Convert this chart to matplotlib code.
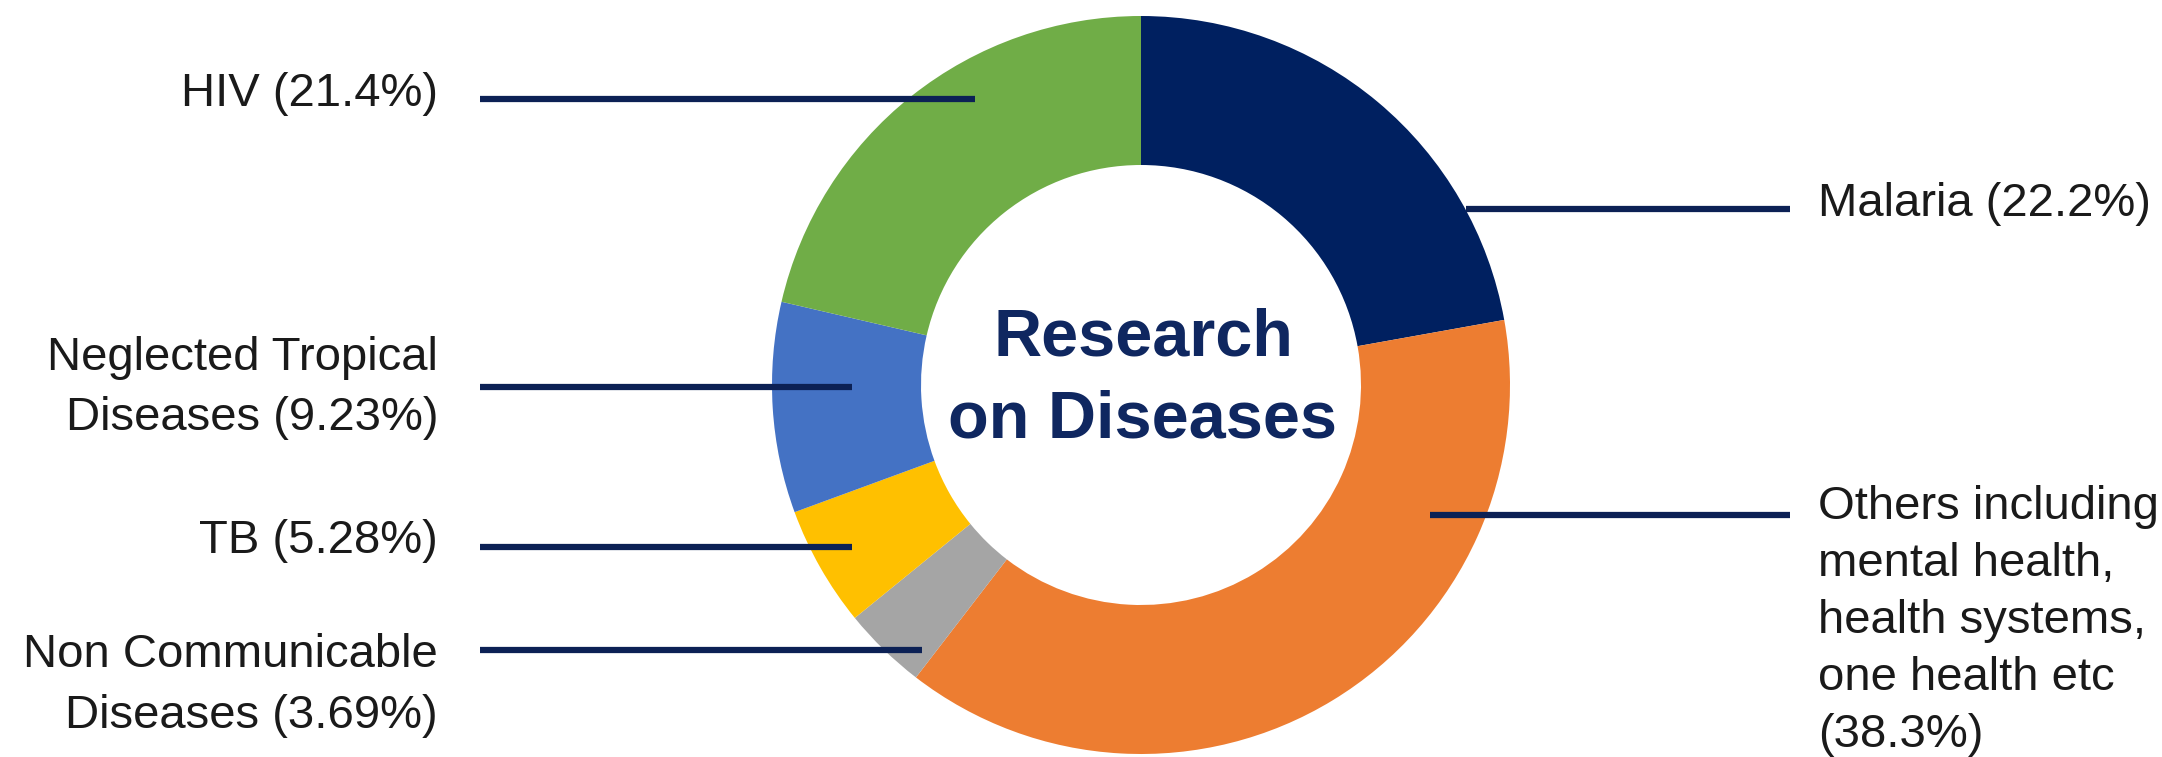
import matplotlib.pyplot as plt

W, H = 2162, 757

# data
labels = ["Malaria (22.2%)",
          "Others including\nmental health,\nhealth systems,\none health etc\n(38.3%)",
          "Non Communicable\nDiseases (3.69%)",
          "TB (5.28%)",
          "Neglected Tropical\nDiseases (9.23%)",
          "HIV (21.4%)"]
shares = [22.2, 38.3, 3.69, 5.28, 9.23, 21.4]
colors = ["#002060", "#ED7D31", "#A5A5A5", "#FFC000", "#4472C4", "#70AD47"]

# label layout (pixels from top of image): first baseline, line gap, leader y, leader inner end
text_base = [216, 519, 667, 553, 370, 106]
text_gap = [0, 57, 61, 0, 60, 0]
line_y = [209, 515, 650, 547, 387, 99]
line_end = [1466, 1430, 922, 852, 852, 975]
side = ["right", "right", "left", "left", "left", "left"]

plt.rcParams['font.family'] = ['Liberation Sans', 'DejaVu Sans']

fig = plt.figure(figsize=(W / 100, H / 100), dpi=100)
ax = fig.add_axes([0, 0, 1, 1])

cx, cy, R = 1141, H - 385, 369
ax.pie(shares, colors=colors, radius=R, center=(cx, cy), startangle=90,
       counterclock=False, wedgeprops=dict(width=149, linewidth=0))

for i, t in enumerate(["Research", "on Diseases"]):
    ax.text(cx + 2, H - 355 - 82 * i, t, ha='center', va='baseline',
            fontsize=48, fontweight='bold', color='#0f2760')

line_col = '#0c2155'
for lab, ty, gap, ly, lx, s in zip(labels, text_base, text_gap, line_y, line_end, side):
    if s == "left":
        ax.plot([480, lx], [H - ly, H - ly], color=line_col, lw=4.5,
                solid_capstyle='butt')
        tx, ha = 438, 'right'
    else:
        ax.plot([lx, 1790], [H - ly, H - ly], color=line_col, lw=4.5,
                solid_capstyle='butt')
        tx, ha = 1818, 'left'
    for i, part in enumerate(lab.split("\n")):
        ax.text(tx, H - ty - gap * i, part, ha=ha, va='baseline',
                fontsize=34, color='#1a1a1a')

ax.set_xlim(0, W)
ax.set_ylim(0, H)
ax.set_aspect('equal')
ax.axis('off')

fig.savefig("out.png", dpi=100)
